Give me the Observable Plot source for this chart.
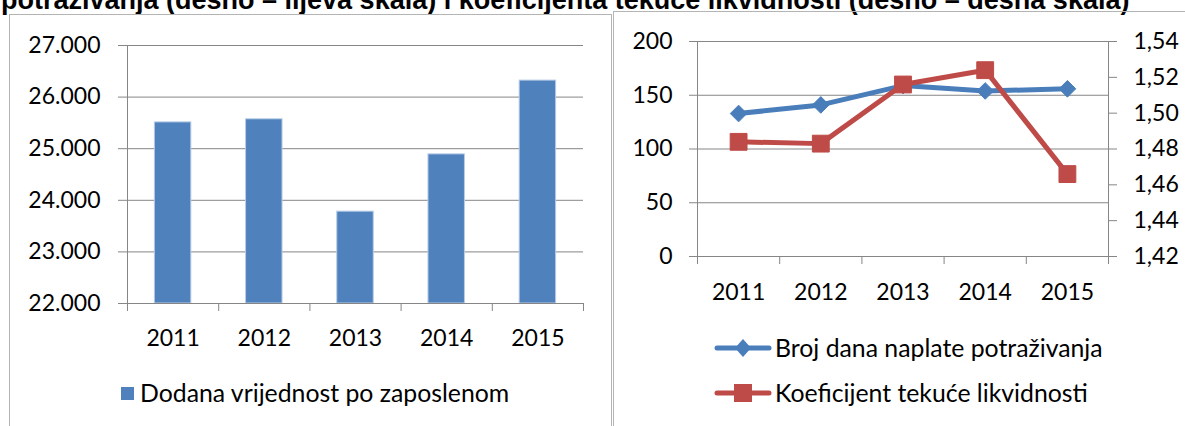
<!DOCTYPE html>
<html>
<head>
<meta charset="utf-8">
<script src="https://cdn.jsdelivr.net/npm/d3@7"></script>
<script src="https://cdn.jsdelivr.net/npm/@observablehq/plot@0.6"></script>
<style>
html, body { margin: 0; padding: 0; background: #fff; }
#page { position: relative; width: 1185px; height: 426px; overflow: hidden; background: #fff; font-family: Lato, "Open Sans", sans-serif; }
#title { position: absolute; left: 1px; top: -13px; font: bold 27px/27px "Liberation Sans", Arial, sans-serif; white-space: nowrap; color: #000; }
.panel { position: absolute; border: 1px solid #b4b4b4; box-sizing: border-box; }
.chart { position: absolute; top: 0; }
.leg { position: absolute; font-size: 24.8px; line-height: 25px; color: #000; white-space: nowrap; font-family: Lato, sans-serif; }
</style>
</head>
<body>
<div id="page">
  <div id="title"></div>
  <div class="panel" style="left:9px; top:14px; width:603px; height:440px;"></div>
  <div class="panel" style="left:613px; top:11px; width:600px; height:440px;"></div>
  <div id="leftChart" class="chart" style="left:0px; width:612px;"></div>
  <div id="rightChart" class="chart" style="left:614px; width:571px;"></div>
  <div id="legends"></div>
</div>
<script>
// ---- data ----
const titleText = "potraživanja (desno – lijeva skala) i koeficijenta tekuće likvidnosti (desno – desna skala)";
const years = ["2011", "2012", "2013", "2014", "2015"];
const valueAdded = [25510, 25570, 23780, 24890, 26320];
const collectionDays = [133, 141, 159, 154, 156];
const liquidity = [1.484, 1.483, 1.516, 1.524, 1.466];
const barTicks = [22000, 23000, 24000, 25000, 26000, 27000];
const lineTicksLeft = [0, 50, 100, 150, 200];
const lineTicksRight = [1.42, 1.44, 1.46, 1.48, 1.50, 1.52, 1.54];
const nameBar = "Dodana vrijednost po zaposlenom";
const nameDays = "Broj dana naplate potraživanja";
const nameLiq = "Koeficijent tekuće likvidnosti";

// ---- style ----
const grey = "#868686";
const barColor = "#4F81BD";
const blue = "#4A7EBB";
const red = "#BE4B48";
const svgStyle = { fontFamily: "Lato, sans-serif", fontSize: "23px", color: "#000", background: "transparent", overflow: "visible" };

document.getElementById("title").textContent = titleText;

const fmtThousands = d => d3.format(",.0f")(d).replace(/,/g, ".");
const fmtComma = d => d.toFixed(2).replace(".", ",");
const boundaries = d3.range(years.length + 1);
const centers = years.map((_, i) => i + 0.5);
const yearOf = v => years[Math.floor(v)];

// ---- left: bar chart ----
const barRows = years.map((year, i) => ({ year, i, value: valueAdded[i] }));
const leftPlot = Plot.plot({
  width: 612, height: 370,
  marginLeft: 127, marginRight: 29, marginTop: 45, marginBottom: 67,
  style: svgStyle,
  x: { domain: [0, years.length], label: null },
  y: { domain: [barTicks[0], barTicks[barTicks.length - 1]], label: null },
  marks: [
    Plot.gridY(barTicks, { stroke: grey, strokeOpacity: 1, strokeWidth: 1 }),
    Plot.rectY(barRows, {
      x1: d => d.i + 0.3, x2: d => d.i + 0.7,
      y1: () => barTicks[0], y2: "value",
      fill: barColor, stroke: "#b9cde5", strokeWidth: 1
    }),
    Plot.ruleX([0], { stroke: grey }),
    Plot.ruleY([barTicks[0]], { stroke: grey }),
    Plot.axisY(barTicks, { label: null, tickSize: 9, tickPadding: 18, tickFormat: fmtThousands, stroke: grey, fill: "#000", fontSize: 23 }),
    Plot.axisX(boundaries, { label: null, tickSize: 8, tickFormat: () => "", stroke: grey }),
    Plot.axisX(centers, { label: null, tickSize: 0, tickPadding: 26, tickFormat: yearOf, fill: "#000", fontSize: 23 })
  ]
});
document.getElementById("leftChart").appendChild(leftPlot);

// ---- right: dual-axis line chart ----
const lMax = lineTicksLeft[lineTicksLeft.length - 1];
const rMin = lineTicksRight[0], rMax = lineTicksRight[lineTicksRight.length - 1];
const toLeft = v => (v - rMin) / (rMax - rMin) * lMax;
const fromLeft = v => rMin + v / lMax * (rMax - rMin);
const dayRows = years.map((year, i) => ({ pos: i + 0.5, value: collectionDays[i] }));
const liqRows = years.map((year, i) => ({ pos: i + 0.5, value: toLeft(liquidity[i]) }));

const rightPlot = Plot.plot({
  width: 571, height: 370,
  marginLeft: 83, marginRight: 77, marginTop: 41, marginBottom: 114,
  style: svgStyle,
  x: { domain: [0, years.length], label: null },
  y: { domain: [lineTicksLeft[0], lMax], label: null },
  marks: [
    Plot.gridY(lineTicksLeft, { stroke: grey, strokeOpacity: 1, strokeWidth: 1 }),
    Plot.ruleX([0, years.length], { stroke: grey }),
    Plot.ruleY([lineTicksLeft[0]], { stroke: grey }),
    Plot.axisY(lineTicksLeft, { label: null, anchor: "left", tickSize: 8, tickPadding: 17, stroke: grey, fill: "#000", fontSize: 23 }),
    Plot.axisY(lineTicksRight.map(toLeft), { label: null, anchor: "right", tickSize: 8, tickPadding: 17, tickFormat: v => fmtComma(fromLeft(v)), stroke: grey, fill: "#000", fontSize: 23 }),
    Plot.axisX(boundaries, { label: null, tickSize: 8, tickFormat: () => "", stroke: grey }),
    Plot.axisX(centers, { label: null, tickSize: 0, tickPadding: 27, tickFormat: yearOf, fill: "#000", fontSize: 23 }),
    Plot.line(dayRows, { x: "pos", y: "value", stroke: blue, strokeWidth: 5, strokeLinejoin: "round", strokeLinecap: "round" }),
    Plot.dot(dayRows, { x: "pos", y: "value", symbol: "diamond2", r: 7.5, fill: blue, stroke: blue, strokeWidth: 1 }),
    Plot.line(liqRows, { x: "pos", y: "value", stroke: red, strokeWidth: 5, strokeLinejoin: "round", strokeLinecap: "round" }),
    Plot.dot(liqRows, { x: "pos", y: "value", symbol: "square", r: 9.5, fill: red, stroke: red, strokeWidth: 1 })
  ]
});
document.getElementById("rightChart").appendChild(rightPlot);

// ---- legends (HTML) ----
const leg = document.getElementById("legends");
function addText(text, left, cy) {
  const d = document.createElement("div");
  d.className = "leg";
  d.style.left = left + "px";
  d.style.top = (cy - 13) + "px";
  d.textContent = text;
  leg.appendChild(d);
}
function addSwatch(left, cy, color, shape) {
  const ns = "http://www.w3.org/2000/svg";
  const s = document.createElementNS(ns, "svg");
  s.setAttribute("width", 60); s.setAttribute("height", 24);
  s.style.position = "absolute";
  s.style.left = left + "px";
  s.style.top = (cy - 12) + "px";
  const l = document.createElementNS(ns, "line");
  l.setAttribute("x1", 4); l.setAttribute("x2", 56); l.setAttribute("y1", 12); l.setAttribute("y2", 12);
  l.setAttribute("stroke", color); l.setAttribute("stroke-width", 5); l.setAttribute("stroke-linecap", "round");
  s.appendChild(l);
  const p = document.createElementNS(ns, "path");
  p.setAttribute("d", shape === "diamond" ? "M30,3L38,12L30,21L22,12Z" : "M21,3H39V21H21Z");
  p.setAttribute("fill", color);
  s.appendChild(p);
  leg.appendChild(s);
}
const sq = document.createElement("div");
sq.style.cssText = `position:absolute;left:121px;top:387px;width:13px;height:13px;background:${barColor};`;
leg.appendChild(sq);
addText(nameBar, 140, 393);
addSwatch(713, 348, blue, "diamond");
addText(nameDays, 775, 348);
addSwatch(713, 393, red, "square");
addText(nameLiq, 775, 393);
</script>
</body>
</html>
